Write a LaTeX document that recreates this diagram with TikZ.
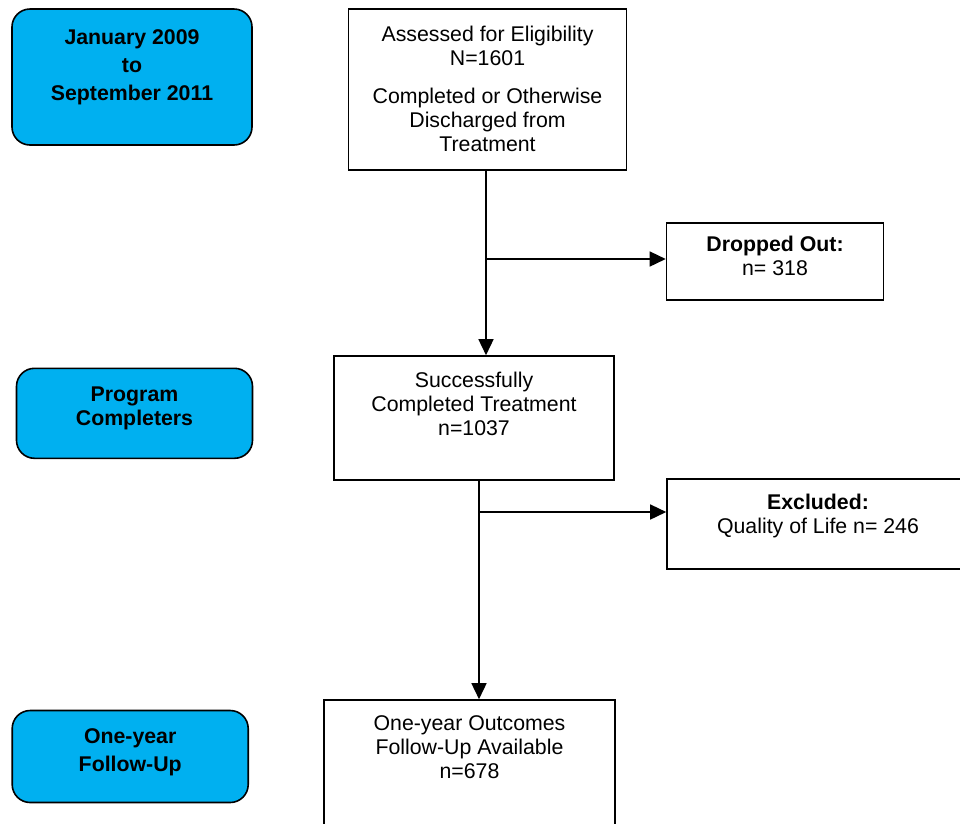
\documentclass[tikz,border=0pt]{standalone}
\usepackage{fontspec}
\setmainfont{Liberation Sans}
\usetikzlibrary{positioning,arrows.meta}

\definecolor{stageblue}{RGB}{0,176,240}

\tikzset{
    stage/.style={draw, line width=1.6pt, fill=stageblue, rounded corners=18pt, inner sep=0pt},
    flowbox/.style={draw, line width=1.6pt, fill=white, inner sep=0pt},
    boxtext/.style={inner sep=0pt, align=center, font=\fontsize{21.3}{24}\selectfont},
    stagetext/.style={boxtext, font=\fontsize{21.3}{24}\selectfont\bfseries},
    flow/.style={line width=1.5pt, -{Triangle[length=16pt,width=15pt]}}
}

\begin{document}
\begin{tikzpicture}[x=1pt, y=-1pt]
    \useasboundingbox (0,0) rectangle (960,823);
    \clip (0,0) rectangle (960,823);

    % stages on the left
    \node (period) [stage, minimum width=240pt, minimum height=136pt] at (132,77) {};
    \node (completers) [stage, minimum width=236pt, minimum height=90pt] at (134.5,413.3) {};
    \node (followup) [stage, minimum width=236pt, minimum height=92pt] at (130.2,756.5) {};
    \node (periodtext) [stagetext, below=21pt of period.north] {January 2009\\[4pt]to\\[4pt]September 2011};
    \node (completerstext) [stagetext, below=19pt of completers.north] {Program\\Completers};
    \node (followuptext) [stagetext, below=18.7pt of followup.north] {One-year\\[4pt]Follow-Up};

    % flow boxes
    \node (assess) [flowbox, minimum width=278pt, minimum height=161pt] at (487.5,89.5) {};
    \node (dropped) [flowbox, minimum width=217pt, minimum height=77pt] at (775,261.3) {};
    \node (success) [flowbox, minimum width=280pt, minimum height=124pt] at (474,418) {};
    \node (excluded) [flowbox, minimum width=302pt, minimum height=90pt] at (818,524.2) {};
    \node (outcome) [flowbox, minimum width=291pt, minimum height=170pt] at (469.5,785) {};
    \node (assesstext) [boxtext, below=18pt of assess.north] {Assessed for Eligibility\\N=1601\\[14pt]Completed or Otherwise\\Discharged from\\Treatment};
    \node (droppedtext) [boxtext, below=14pt of dropped.north] {\textbf{Dropped Out:}\\n= 318};
    \node (successtext) [boxtext, below=17pt of success.north] {Successfully\\Completed Treatment\\n=1037};
    \node (excludedtext) [boxtext, below=15.7pt of excluded.north] {\textbf{Excluded:}\\Quality of Life n= 246};
    \node (outcometext) [boxtext, below=16pt of outcome.north] {One-year Outcomes\\Follow-Up Available\\n=678};

    % connectors
    \coordinate (fork1) at (486,259);
    \coordinate (fork2) at (479,512);
    \draw[flow] (fork1 |- assess.south) -- (fork1 |- success.north);
    \draw[flow] (fork1) -- (fork1 -| dropped.west);
    \draw[flow] (fork2 |- success.south) -- (fork2 |- outcome.north);
    \draw[flow] (fork2) -- (fork2 -| excluded.west);
\end{tikzpicture}
\end{document}
